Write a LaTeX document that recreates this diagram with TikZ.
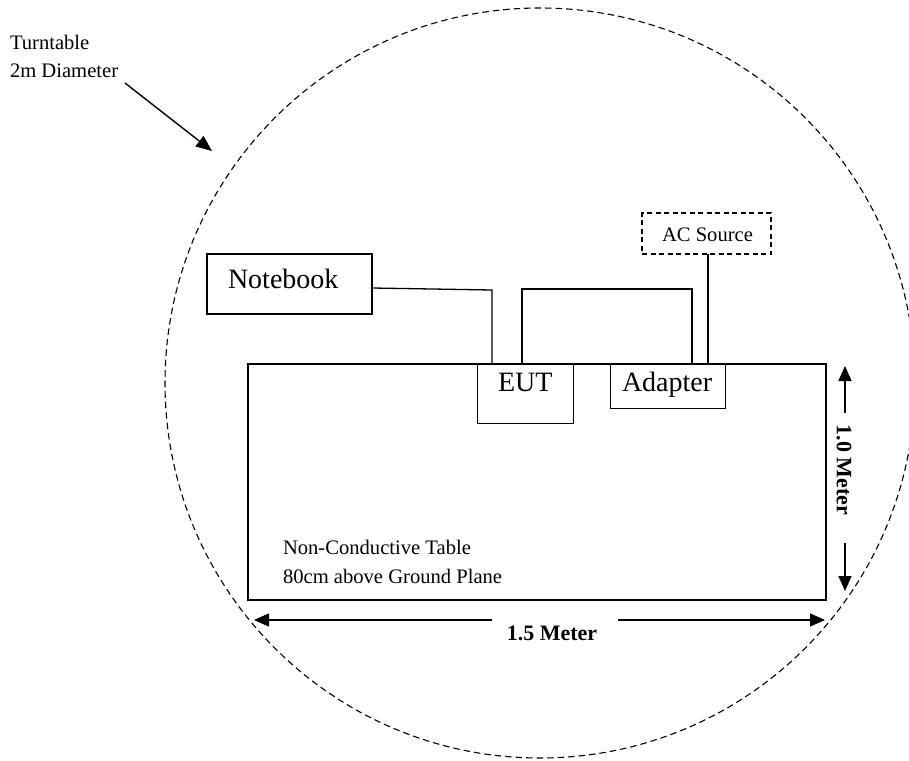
\documentclass[tikz,border=0pt]{standalone}
\usepackage{fontspec}
\setmainfont{Liberation Serif}
\usetikzlibrary{arrows.meta,calc}
\begin{document}
\begin{tikzpicture}[x=1pt,y=-1pt,
  big/.style={font=\fontsize{28}{34}\selectfont, inner sep=0pt, outer sep=0pt},
  small/.style={font=\fontsize{20.6}{28}\selectfont, inner sep=0pt, outer sep=0pt},
  dimlabel/.style={font=\fontsize{22}{26}\selectfont\bfseries, inner sep=0pt, outer sep=0pt},
  boxshape/.style={draw, rectangle, inner sep=0pt, outer sep=0pt, anchor=north west},
  wire/.style={line width=1.3pt},
  arr/.style={line width=1.3pt, -{Triangle[length=15pt,width=13pt]}},
]
\useasboundingbox (0,0) rectangle (909,760);
% turntable
\node (turn) [circle, draw, line width=1.1pt, dash pattern=on 6.5pt off 4pt, minimum size=750pt, inner sep=0pt] at (540,383) {};
\node (turntxt) [small, anchor=base west, align=left] at (10,77) {Turntable\\2m Diameter};
\coordinate (tip) at (212,151);
\draw[line width=1.4pt, -{Triangle[length=16pt,width=13pt]}] (125,83) -- (tip);
% table
\node (table) [boxshape, line width=2pt, minimum width=578pt, minimum height=236pt] at (248,364) {};
\node (tabletxt) [small, anchor=base west, align=left, font=\fontsize{20.6}{29}\selectfont] at (283,583) {Non-Conductive Table\\80cm above Ground Plane};
% notebook
\node (nb) [boxshape, line width=1.5pt, minimum width=165pt, minimum height=60pt] at (207,254) {};
\node (nbt) [big, anchor=base west] at (228,288) {Notebook};
% EUT
\node (eut) [boxshape, fill=white, line width=1pt, minimum width=96pt, minimum height=59pt] at (477,364) {};
\node (eutt) [big, anchor=base west] at (498,391) {EUT};
% Adapter
\node (ad) [boxshape, fill=white, line width=1pt, minimum width=115pt, minimum height=44pt] at (610,364) {};
\node (adt) [big, anchor=base west] at (622,391) {Adapter};
% AC source
\node (ac) [boxshape, line width=1.2pt, dash pattern=on 5pt off 3.5pt, minimum width=129pt, minimum height=41pt] at (642,213) {};
\node (act) [small, anchor=base west] at (662,241) {AC Source};
% redraw table top over boxes
\draw[line width=2pt] (table.north west) -- (table.north east);
% wires
\coordinate (w1) at (492,290);
\draw[wire] ([yshift=-4pt]nb.east) -- (w1) -- (w1 |- table.north);
\coordinate (w2) at (522,289);
\coordinate (w3) at (692,289);
\draw[wire] (w2 |- table.north) -- (w2) -- (w3) -- (w3 |- table.north);
\coordinate (w4) at (708,254);
\draw[wire] (w4) -- (w4 |- table.north);
% vertical dimension
\node (vlab) [dimlabel, rotate=-90] at (844,470) {1.0 Meter};
\coordinate (vt) at (845,366);
\coordinate (vb) at (845,591);
\coordinate (vts) at (845,413);
\coordinate (vbs) at (845,543);
\draw[arr] (vts) -- (vt);
\draw[arr] (vbs) -- (vb);
% horizontal dimension
\node (hlab) [dimlabel, anchor=base] at (552,640) {1.5 Meter};
\coordinate (hl) at (254,620);
\coordinate (hr) at (825,620);
\coordinate (hls) at (492,620);
\coordinate (hrs) at (618,620);
\draw[arr] (hls) -- (hl);
\draw[arr] (hrs) -- (hr);
\end{tikzpicture}
\end{document}
